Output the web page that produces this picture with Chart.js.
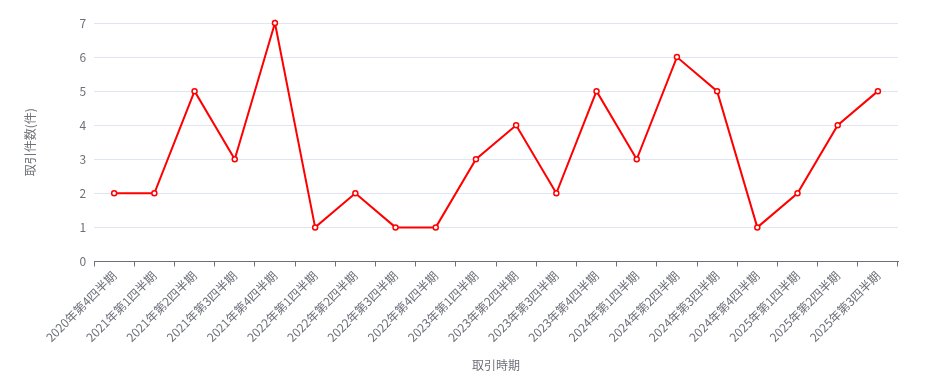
<!DOCTYPE html>
<html>
<head>
<meta charset="utf-8">
<script src="https://cdn.jsdelivr.net/npm/chart.js@4/dist/chart.umd.min.js"></script>
<style>
    html, body { margin: 0; padding: 0; background: #fff; }
    #wrap { width: 938px; height: 387px; }
</style>
</head>
<body>
<div id="wrap"><canvas id="tradeChart"></canvas></div>
<script>
// quarters and trade counts
const quarters = [
    '2020年第4四半期', '2021年第1四半期', '2021年第2四半期', '2021年第3四半期',
    '2021年第4四半期', '2022年第1四半期', '2022年第2四半期', '2022年第3四半期',
    '2022年第4四半期', '2023年第1四半期', '2023年第2四半期', '2023年第3四半期',
    '2023年第4四半期', '2024年第1四半期', '2024年第2四半期', '2024年第3四半期',
    '2024年第4四半期', '2025年第1四半期', '2025年第2四半期', '2025年第3四半期'
];
const tradeCounts = [2, 2, 5, 3, 7, 1, 2, 1, 1, 3, 4, 2, 5, 3, 6, 5, 1, 2, 4, 5];
const yTicks = [0, 1, 2, 3, 4, 5, 6, 7];

const axisColor = '#6E7079';
const gridColor = '#E0E6F1';
const fontFamily = '"Noto Sans CJK JP", "Noto Sans", sans-serif';

const ctx = document.getElementById('tradeChart').getContext('2d');

new Chart(ctx, {
    type: 'line',
    data: {
        labels: quarters,
        datasets: [{
            label: '取引件数',
            data: tradeCounts,
            borderColor: '#ff0000',
            borderWidth: 2,
            backgroundColor: '#ffffff',
            pointBackgroundColor: '#ffffff',
            pointBorderColor: '#ff0000',
            pointBorderWidth: 1.5,
            pointRadius: 2.5,
            tension: 0,
            fill: false,
            clip: false
        }]
    },
    options: {
        responsive: true,
        maintainAspectRatio: false,
        animation: false,
        layout: {
            padding: {left: 23, right: 40, top: 23, bottom: 14}
        },
        scales: {
            x: {
                offset: true,
                grid: {
                    offset: true,
                    drawOnChartArea: false,
                    color: axisColor,
                    tickLength: 5
                },
                border: {color: axisColor, width: 1},
                ticks: {
                    color: axisColor,
                    font: {family: fontFamily, size: 12},
                    minRotation: 45,
                    maxRotation: 45,
                    autoSkip: false,
                    padding: 2
                },
                title: {
                    display: true,
                    text: '取引時期',
                    color: axisColor,
                    font: {family: fontFamily, size: 12},
                    padding: {top: 12, bottom: 0}
                }
            },
            y: {
                min: 0,
                max: 7,
                afterBuildTicks: axis => {
                    axis.ticks = yTicks.map(v => ({value: v}));
                },
                grid: {
                    color: gridColor,
                    drawTicks: false
                },
                border: {display: false},
                ticks: {
                    color: axisColor,
                    font: {family: fontFamily, size: 12},
                    padding: 8
                },
                title: {
                    display: true,
                    text: '取引件数(件)',
                    color: axisColor,
                    font: {family: fontFamily, size: 12},
                    padding: {top: 0, bottom: 34}
                }
            }
        },
        plugins: {
            legend: {display: false},
            tooltip: {enabled: false}
        }
    }
});
</script>
</body>
</html>
